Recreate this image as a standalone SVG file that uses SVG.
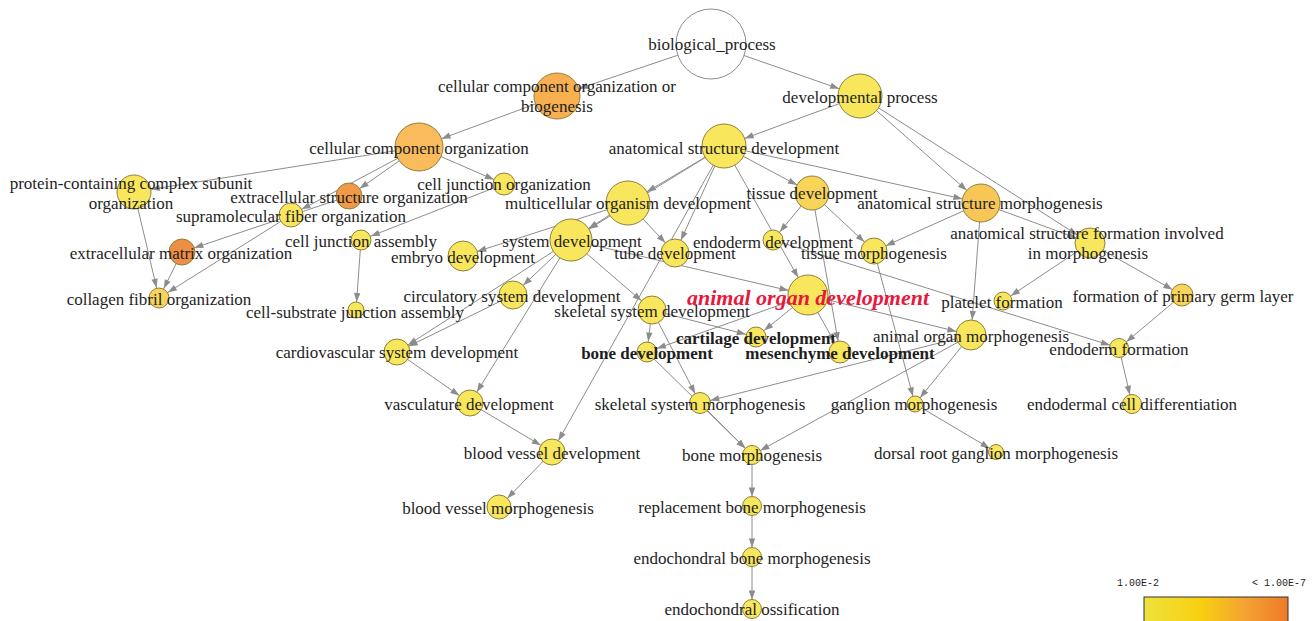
<svg xmlns="http://www.w3.org/2000/svg" width="1315" height="621" viewBox="0 0 1315 621">
<style>
.e{stroke:#8c8c8c;stroke-width:1;fill:none}
.c{stroke:#8f7f3a;stroke-width:1}
.y{fill:#f8e65c}
.y2{fill:#f8d458}
.y3{fill:#f8c657}
.o1{fill:#f9bb5c}
.o2{fill:#f7af50}
.o3{fill:#f09a48}
.o4{fill:#ee8f45}
.w{fill:#ffffff;stroke:#8c8c8c;stroke-width:1}
text{font-family:"Liberation Serif","Times New Roman",serif;font-size:17px;fill:#1e1e1e;text-anchor:middle;dominant-baseline:central}
.b{font-weight:bold}
.red{font-weight:bold;font-style:italic;font-size:22px;fill:#e8173c}
.leg{font-family:"Liberation Mono","Courier New",monospace;font-size:10px;text-anchor:start;dominant-baseline:auto}
</style>
<defs>
<path id="ah" d="M-9,-3.2 L0,0 L-9,3.2 Z" fill="#8c8c8c"/>
<marker id="a7" markerUnits="userSpaceOnUse" orient="auto" refX="7.5" refY="0" markerWidth="10" markerHeight="10" overflow="visible"><use href="#ah"/></marker>
<marker id="a8" markerUnits="userSpaceOnUse" orient="auto" refX="8" refY="0" markerWidth="10" markerHeight="10" overflow="visible"><use href="#ah"/></marker>
<marker id="a9" markerUnits="userSpaceOnUse" orient="auto" refX="9.5" refY="0" markerWidth="10" markerHeight="10" overflow="visible"><use href="#ah"/></marker>
<marker id="a10" markerUnits="userSpaceOnUse" orient="auto" refX="10.5" refY="0" markerWidth="10" markerHeight="10" overflow="visible"><use href="#ah"/></marker>
<marker id="a11" markerUnits="userSpaceOnUse" orient="auto" refX="11" refY="0" markerWidth="10" markerHeight="10" overflow="visible"><use href="#ah"/></marker>
<marker id="a12" markerUnits="userSpaceOnUse" orient="auto" refX="12" refY="0" markerWidth="10" markerHeight="10" overflow="visible"><use href="#ah"/></marker>
<marker id="a13" markerUnits="userSpaceOnUse" orient="auto" refX="13" refY="0" markerWidth="10" markerHeight="10" overflow="visible"><use href="#ah"/></marker>
<marker id="a14" markerUnits="userSpaceOnUse" orient="auto" refX="14" refY="0" markerWidth="10" markerHeight="10" overflow="visible"><use href="#ah"/></marker>
<marker id="a15" markerUnits="userSpaceOnUse" orient="auto" refX="15" refY="0" markerWidth="10" markerHeight="10" overflow="visible"><use href="#ah"/></marker>
<marker id="a17" markerUnits="userSpaceOnUse" orient="auto" refX="17" refY="0" markerWidth="10" markerHeight="10" overflow="visible"><use href="#ah"/></marker>
<marker id="a19" markerUnits="userSpaceOnUse" orient="auto" refX="19" refY="0" markerWidth="10" markerHeight="10" overflow="visible"><use href="#ah"/></marker>
<marker id="a20" markerUnits="userSpaceOnUse" orient="auto" refX="20" refY="0" markerWidth="10" markerHeight="10" overflow="visible"><use href="#ah"/></marker>
<marker id="a21" markerUnits="userSpaceOnUse" orient="auto" refX="21" refY="0" markerWidth="10" markerHeight="10" overflow="visible"><use href="#ah"/></marker>
<marker id="a22" markerUnits="userSpaceOnUse" orient="auto" refX="22" refY="0" markerWidth="10" markerHeight="10" overflow="visible"><use href="#ah"/></marker>
<marker id="a23" markerUnits="userSpaceOnUse" orient="auto" refX="23" refY="0" markerWidth="10" markerHeight="10" overflow="visible"><use href="#ah"/></marker>
<marker id="a24" markerUnits="userSpaceOnUse" orient="auto" refX="24" refY="0" markerWidth="10" markerHeight="10" overflow="visible"><use href="#ah"/></marker>
<linearGradient id="lg" x1="0" y1="0" x2="1" y2="0">
<stop offset="0" stop-color="#efe23c"/>
<stop offset="0.4" stop-color="#f8cf10"/>
<stop offset="0.7" stop-color="#f4a332"/>
<stop offset="1" stop-color="#ee7a28"/>
</linearGradient>
</defs>
<rect width="1315" height="621" fill="#ffffff"/>
<g id="connectors">
<line class="e" x1="711" y1="44" x2="557" y2="96" marker-end="url(#a23)"/>
<line class="e" x1="711" y1="44" x2="860" y2="96" marker-end="url(#a22)"/>
<line class="e" x1="557" y1="96" x2="419" y2="147" marker-end="url(#a24)"/>
<line class="e" x1="419" y1="147" x2="134" y2="192" marker-end="url(#a17)"/>
<line class="e" x1="419" y1="147" x2="349" y2="196" marker-end="url(#a13)"/>
<line class="e" x1="419" y1="147" x2="291" y2="215" marker-end="url(#a12)"/>
<line class="e" x1="419" y1="147" x2="504" y2="184" marker-end="url(#a11)"/>
<line class="e" x1="349" y1="196" x2="182" y2="252" marker-end="url(#a13)"/>
<line class="e" x1="182" y1="252" x2="159" y2="298" marker-end="url(#a10)"/>
<line class="e" x1="291" y1="215" x2="159" y2="298" marker-end="url(#a10)"/>
<line class="e" x1="134" y1="192" x2="159" y2="298" marker-end="url(#a10)"/>
<line class="e" x1="504" y1="184" x2="361" y2="240" marker-end="url(#a10)"/>
<line class="e" x1="361" y1="240" x2="356" y2="310" marker-end="url(#a8)"/>
<line class="e" x1="860" y1="96" x2="724" y2="146" marker-end="url(#a22)"/>
<line class="e" x1="860" y1="96" x2="981" y2="203" marker-end="url(#a19)"/>
<line class="e" x1="860" y1="96" x2="1090" y2="243" marker-end="url(#a15)"/>
<line class="e" x1="724" y1="146" x2="628" y2="203" marker-end="url(#a22)"/>
<line class="e" x1="724" y1="146" x2="571" y2="240" marker-end="url(#a21)"/>
<line class="e" x1="724" y1="146" x2="812" y2="193" marker-end="url(#a17)"/>
<line class="e" x1="724" y1="146" x2="981" y2="203" marker-end="url(#a19)"/>
<line class="e" x1="724" y1="146" x2="675" y2="253" marker-end="url(#a14)"/>
<line class="e" x1="724" y1="146" x2="808" y2="295" marker-end="url(#a20)"/>
<line class="e" x1="724" y1="146" x2="552" y2="452" marker-end="url(#a13)"/>
<line class="e" x1="628" y1="203" x2="463" y2="256" marker-end="url(#a15)"/>
<line class="e" x1="628" y1="203" x2="571" y2="240" marker-end="url(#a21)"/>
<line class="e" x1="628" y1="203" x2="675" y2="253" marker-end="url(#a14)"/>
<line class="e" x1="812" y1="193" x2="773" y2="240" marker-end="url(#a10)"/>
<line class="e" x1="812" y1="193" x2="874" y2="251" marker-end="url(#a13)"/>
<line class="e" x1="812" y1="193" x2="840" y2="352" marker-end="url(#a11)"/>
<line class="e" x1="981" y1="203" x2="874" y2="251" marker-end="url(#a13)"/>
<line class="e" x1="981" y1="203" x2="971" y2="335" marker-end="url(#a15)"/>
<line class="e" x1="981" y1="203" x2="1090" y2="243" marker-end="url(#a15)"/>
<line class="e" x1="1090" y1="243" x2="1003" y2="301" marker-end="url(#a9)"/>
<line class="e" x1="1090" y1="243" x2="1182" y2="295" marker-end="url(#a11)"/>
<line class="e" x1="1182" y1="295" x2="1119" y2="348" marker-end="url(#a9)"/>
<line class="e" x1="773" y1="240" x2="1119" y2="348" marker-end="url(#a9)"/>
<line class="e" x1="1119" y1="348" x2="1132" y2="404" marker-end="url(#a9)"/>
<line class="e" x1="571" y1="240" x2="513" y2="295" marker-end="url(#a14)"/>
<line class="e" x1="571" y1="240" x2="397" y2="352" marker-end="url(#a13)"/>
<line class="e" x1="571" y1="240" x2="470" y2="403" marker-end="url(#a13)"/>
<line class="e" x1="571" y1="240" x2="652" y2="310" marker-end="url(#a14)"/>
<line class="e" x1="571" y1="240" x2="808" y2="295" marker-end="url(#a20)"/>
<line class="e" x1="513" y1="295" x2="397" y2="352" marker-end="url(#a13)"/>
<line class="e" x1="397" y1="352" x2="470" y2="403" marker-end="url(#a13)"/>
<line class="e" x1="470" y1="403" x2="552" y2="452" marker-end="url(#a13)"/>
<line class="e" x1="552" y1="452" x2="499" y2="507" marker-end="url(#a12)"/>
<line class="e" x1="652" y1="310" x2="647" y2="352" marker-end="url(#a10)"/>
<line class="e" x1="652" y1="310" x2="756" y2="337" marker-end="url(#a10)"/>
<line class="e" x1="652" y1="310" x2="700" y2="403" marker-end="url(#a10)"/>
<line class="e" x1="808" y1="295" x2="756" y2="337" marker-end="url(#a10)"/>
<line class="e" x1="808" y1="295" x2="647" y2="352" marker-end="url(#a10)"/>
<line class="e" x1="808" y1="295" x2="840" y2="352" marker-end="url(#a11)"/>
<line class="e" x1="808" y1="295" x2="971" y2="335" marker-end="url(#a15)"/>
<line class="e" x1="971" y1="335" x2="700" y2="403" marker-end="url(#a10)"/>
<line class="e" x1="971" y1="335" x2="752" y2="455" marker-end="url(#a9)"/>
<line class="e" x1="971" y1="335" x2="915" y2="404" marker-end="url(#a8)"/>
<line class="e" x1="874" y1="251" x2="915" y2="404" marker-end="url(#a8)"/>
<line class="e" x1="915" y1="404" x2="996" y2="452" marker-end="url(#a7)"/>
<line class="e" x1="647" y1="352" x2="752" y2="455" marker-end="url(#a9)"/>
<line class="e" x1="700" y1="403" x2="752" y2="455" marker-end="url(#a9)"/>
<line class="e" x1="752" y1="455" x2="752" y2="506" marker-end="url(#a9)"/>
<line class="e" x1="752" y1="506" x2="752" y2="557" marker-end="url(#a9)"/>
<line class="e" x1="752" y1="557" x2="752" y2="609" marker-end="url(#a9)"/>
</g>
<g id="bp"><circle class="w" cx="711" cy="44" r="35"/><text x="712" y="44">biological_process</text></g>
<g id="ccob"><circle class="c o2" cx="557" cy="96" r="23"/><text x="557" y="86">cellular component organization or</text><text x="557" y="106">biogenesis</text></g>
<g id="dp"><circle class="c y" cx="860" cy="96" r="22"/><text x="860" y="97">developmental process</text></g>
<g id="cco"><circle class="c o1" cx="419" cy="147" r="24"/><text x="419" y="148">cellular component organization</text></g>
<g id="asd"><circle class="c y" cx="724" cy="146" r="22"/><text x="724" y="148">anatomical structure development</text></g>
<g id="pcc"><circle class="c y" cx="134" cy="192" r="17"/><text x="131" y="183">protein-containing complex subunit</text><text x="131" y="203">organization</text></g>
<g id="sfo"><circle class="c y" cx="291" cy="215" r="12"/><text x="291" y="216">supramolecular fiber organization</text></g>
<g id="eso"><circle class="c o3" cx="349" cy="196" r="13"/><text x="349" y="197">extracellular structure organization</text></g>
<g id="cjo"><circle class="c y" cx="504" cy="184" r="11"/><text x="504" y="184">cell junction organization</text></g>
<g id="mod"><circle class="c y" cx="628" cy="203" r="22"/><text x="628" y="203">multicellular organism development</text></g>
<g id="td"><circle class="c y2" cx="812" cy="193" r="17"/><text x="812" y="193">tissue development</text></g>
<g id="asm"><circle class="c y3" cx="981" cy="203" r="19"/><text x="980" y="203">anatomical structure morphogenesis</text></g>
<g id="asfim"><circle class="c y" cx="1090" cy="243" r="15"/><text x="1087" y="233">anatomical structure formation involved</text><text x="1088" y="253">in morphogenesis</text></g>
<g id="cja"><circle class="c y" cx="361" cy="240" r="10"/><text x="361" y="241">cell junction assembly</text></g>
<g id="ecm"><circle class="c o4" cx="182" cy="252" r="13"/><text x="181" y="253">extracellular matrix organization</text></g>
<g id="ed"><circle class="c y" cx="463" cy="256" r="15"/><text x="463" y="257">embryo development</text></g>
<g id="sd"><circle class="c y" cx="571" cy="240" r="21"/><text x="572" y="241">system development</text></g>
<g id="tube"><circle class="c y" cx="675" cy="253" r="14"/><text x="675" y="253">tube development</text></g>
<g id="endo"><circle class="c y" cx="773" cy="240" r="10"/><text x="773" y="242">endoderm development</text></g>
<g id="tm"><circle class="c y" cx="874" cy="251" r="13"/><text x="874" y="253">tissue morphogenesis</text></g>
<g id="cfo"><circle class="c y2" cx="159" cy="298" r="10"/><text x="159" y="299">collagen fibril organization</text></g>
<g id="csja"><circle class="c y" cx="356" cy="310" r="8"/><text x="355" y="312">cell-substrate junction assembly</text></g>
<g id="csd"><circle class="c y" cx="513" cy="295" r="14"/><text x="512" y="296">circulatory system development</text></g>
<g id="ssd"><circle class="c y" cx="652" cy="310" r="14"/><text x="652" y="311">skeletal system development</text></g>
<g id="aod"><circle class="c y" cx="808" cy="295" r="20"/><text class="red" x="808" y="297">animal organ development</text></g>
<g id="pf"><circle class="c y" cx="1003" cy="301" r="9"/><text x="1002" y="302">platelet formation</text></g>
<g id="fpgl"><circle class="c y2" cx="1182" cy="295" r="11"/><text x="1183" y="296">formation of primary germ layer</text></g>
<g id="cart"><circle class="c y" cx="756" cy="337" r="10"/><text class="b" x="756" y="338">cartilage development</text></g>
<g id="bone"><circle class="c y" cx="647" cy="352" r="10"/><text class="b" x="647" y="353">bone development</text></g>
<g id="mes"><circle class="c y" cx="840" cy="352" r="11"/><text class="b" x="840" y="353">mesenchyme development</text></g>
<g id="aom"><circle class="c y" cx="971" cy="335" r="15"/><text x="971" y="336">animal organ morphogenesis</text></g>
<g id="ef"><circle class="c y" cx="1119" cy="348" r="9.5"/><text x="1119" y="349">endoderm formation</text></g>
<g id="cvsd"><circle class="c y" cx="397" cy="352" r="13"/><text x="397" y="352">cardiovascular system development</text></g>
<g id="vd"><circle class="c y" cx="470" cy="403" r="13"/><text x="469" y="404">vasculature development</text></g>
<g id="ssm"><circle class="c y" cx="700" cy="403" r="10.5"/><text x="700" y="404">skeletal system morphogenesis</text></g>
<g id="gm"><circle class="c y" cx="915" cy="404" r="8"/><text x="914" y="404">ganglion morphogenesis</text></g>
<g id="ecd"><circle class="c y" cx="1132" cy="404" r="9.5"/><text x="1132" y="404">endodermal cell differentiation</text></g>
<g id="bvd"><circle class="c y" cx="552" cy="452" r="13"/><text x="552" y="453">blood vessel development</text></g>
<g id="bm"><circle class="c y" cx="752" cy="455" r="9.5"/><text x="752" y="455">bone morphogenesis</text></g>
<g id="drgm"><circle class="c y" cx="996" cy="452" r="7.5"/><text x="996" y="453">dorsal root ganglion morphogenesis</text></g>
<g id="bvm"><circle class="c y" cx="499" cy="507" r="12"/><text x="498" y="508">blood vessel morphogenesis</text></g>
<g id="rbm"><circle class="c y" cx="752" cy="506" r="9.5"/><text x="752" y="507">replacement bone morphogenesis</text></g>
<g id="ebm"><circle class="c y" cx="752" cy="557" r="9.5"/><text x="752" y="558">endochondral bone morphogenesis</text></g>
<g id="eo"><circle class="c y" cx="752" cy="609" r="9.5"/><text x="752" y="609">endochondral ossification</text></g>
<g id="legend">
<text class="leg" x="1117" y="586">1.00E-2</text>
<text class="leg" x="1252" y="586">&lt; 1.00E-7</text>
<rect x="1144" y="597" width="144" height="30" fill="url(#lg)" stroke="#333" stroke-width="1"/>
</g>
</svg>
